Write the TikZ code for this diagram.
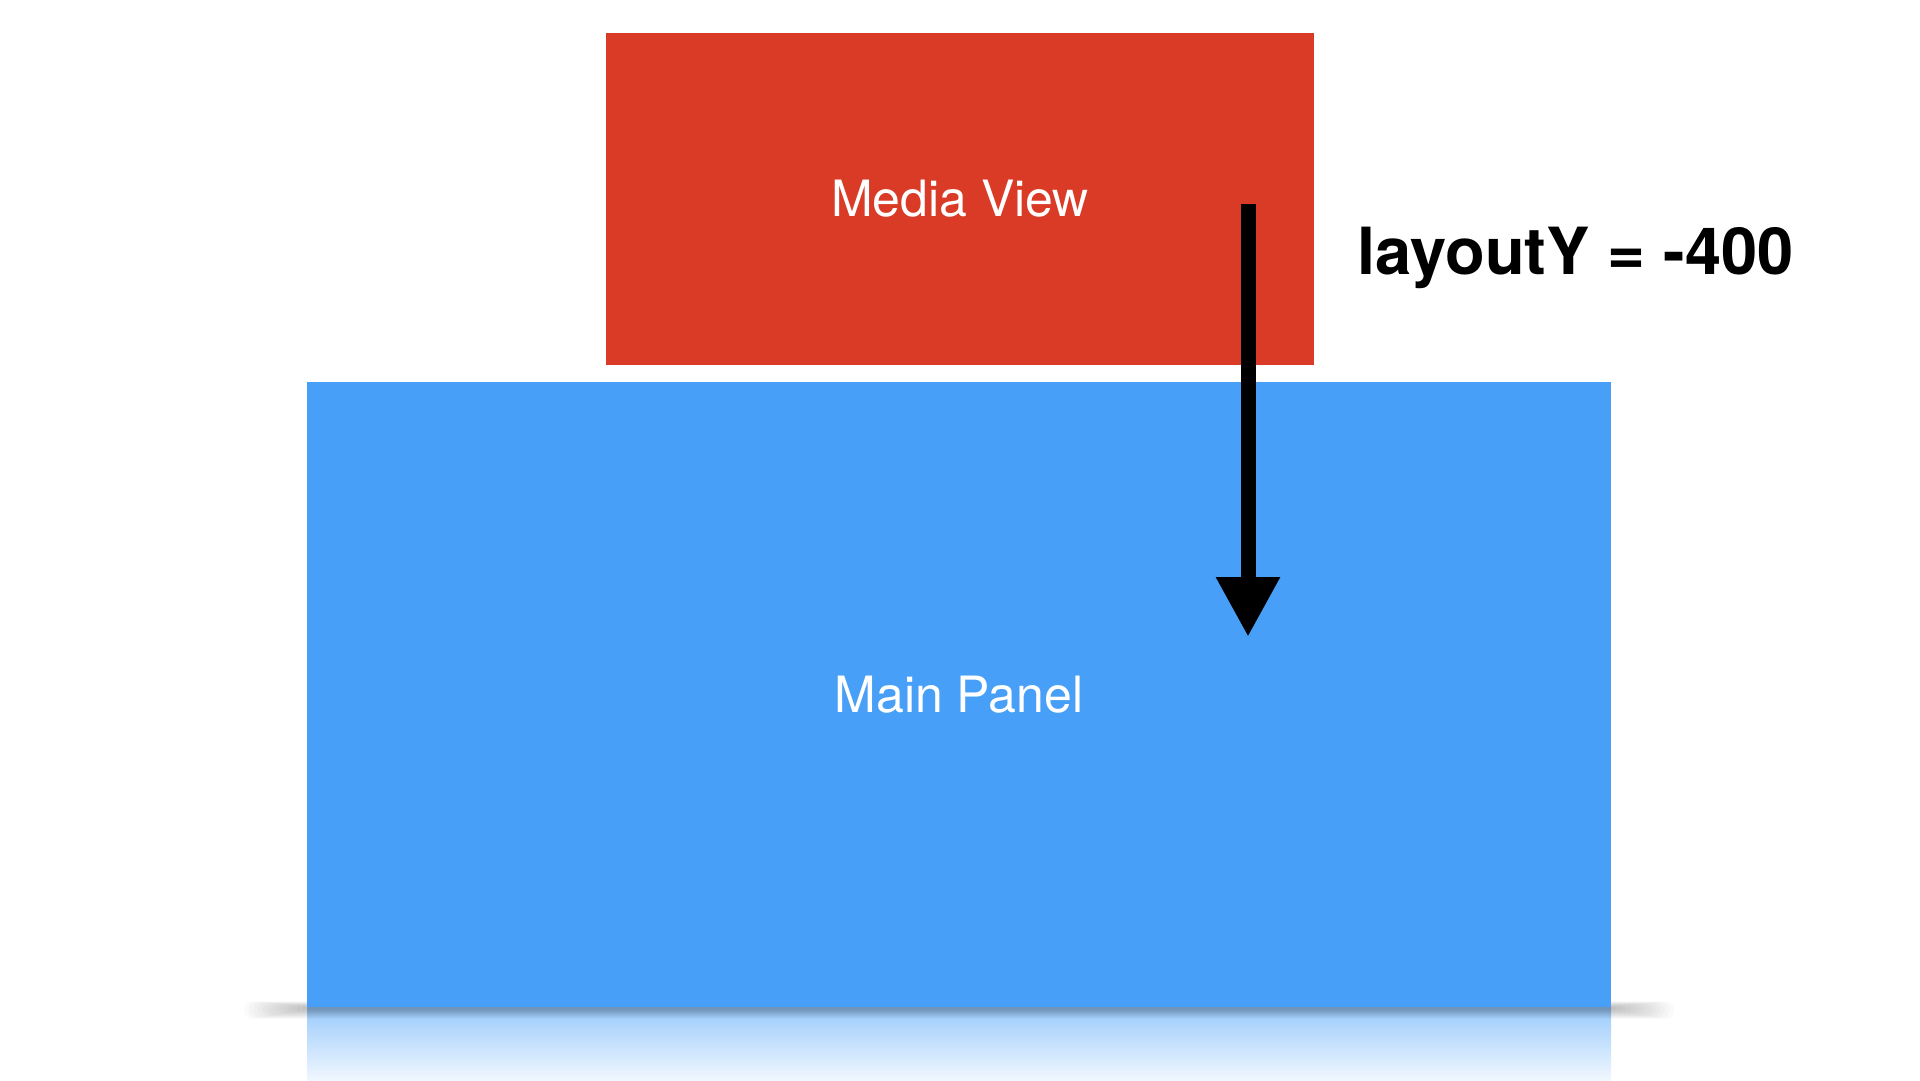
\documentclass[tikz,border=0pt]{standalone}
\usepackage{fontspec}
\setmainfont{TeX Gyre Heros}
\usetikzlibrary{arrows.meta,positioning}
\definecolor{mediared}{HTML}{DA3B26}
\definecolor{panelblue}{HTML}{489FF8}
\tikzset{
  viewbox/.style={rectangle,inner sep=0pt,text=white,font=\fontsize{50}{60}\selectfont},
  mediabox/.style={viewbox,fill=mediared,minimum width=708pt,minimum height=332pt},
  panelbox/.style={viewbox,fill=panelblue,minimum width=1304pt,minimum height=625pt},
  shift arrow/.style={-{Triangle[length=60pt,width=60pt]},line width=15pt,draw=black},
  caption/.style={font=\fontsize{65}{78}\selectfont\bfseries,text=black,inner sep=0pt},
  glow/.style={fill=black,opacity=0.02,rounded corners=8pt},
}

\begin{document}
\begin{tikzpicture}[x=1pt,y=-1pt]
\useasboundingbox (0,0) rectangle (1920,1080);

\coordinate (panelsw) at (307,1007);
\coordinate (panelse) at (1611,1007);

% reflection and shadow under the panel
\shade[top color=panelblue!55,bottom color=panelblue!8] (panelsw) rectangle ([yshift=-73pt]panelse);
\foreach \i in {1,...,14}
  \fill[glow] ([xshift=-4.5*\i pt,yshift=0.4*\i pt]panelsw) rectangle ([xshift=4.5*\i pt,yshift=-0.7*\i pt-2pt]panelse);

\node[mediabox] (media) at (960,199) {Media View};
\node[panelbox] (panel) at (959,694.5) {Main Panel};

\coordinate (arrowtop) at (1248,204);
\coordinate (arrowtip) at (1248,637);
\draw[shift arrow] (arrowtop) -- (arrowtip);

\node[caption,anchor=base west] (shift) at (1357,274) {layoutY = -400};

\end{tikzpicture}
\end{document}
